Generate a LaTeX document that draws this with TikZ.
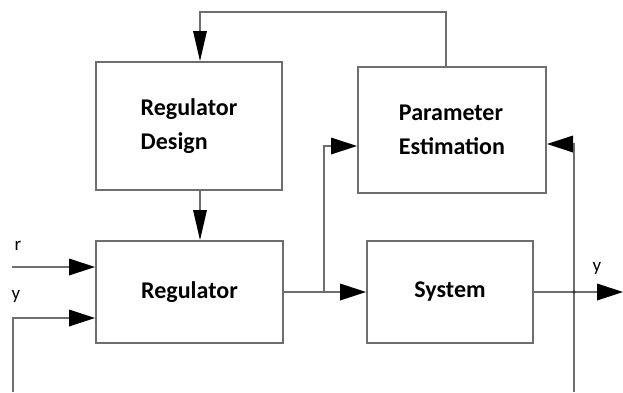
\documentclass[tikz,border=0pt]{standalone}
\usepackage{fontspec}
\setmainfont{Carlito}
\usetikzlibrary{arrows.meta}
\definecolor{wire}{RGB}{110,110,110}
\begin{document}
\begin{tikzpicture}[x=1pt,y=-1pt,
  blockbox/.style={draw=wire, line width=2pt, inner sep=0pt, align=left,
    font=\fontsize{24}{34}\selectfont\bfseries},
  link/.style={draw=wire, line width=2pt},
  flow/.style={link, -{Triangle[length=26pt,width=17pt,color=black,line width=0pt]}},
  vflow/.style={link, -{Triangle[length=30pt,width=14pt,color=black,line width=0pt]}},
  sig/.style={font=\fontsize{19}{22}\selectfont, inner sep=0pt}]
  \useasboundingbox (0,0) rectangle (623,392);

  % blocks
  \node[blockbox, minimum width=186pt, minimum height=128pt] (rd) at (189,126) {Regulator\\Design};
  \node[blockbox, minimum width=188pt, minimum height=126pt] (pe) at (452,130) {Parameter\\Estimation};
  \node[blockbox, minimum width=187pt, minimum height=102pt] (reg) at (189.5,292) {Regulator};
  \node[blockbox, minimum width=166pt, minimum height=102pt] (sys) at (450,292) {System};

  % wiring points
  \coordinate (rin) at (12,267);
  \coordinate (yin) at (13,392);
  \coordinate (branch) at (324,292);
  \coordinate (pick) at (574,292);
  \coordinate (ybot) at (574,392);
  \coordinate (yout) at (623,292);
  \coordinate (topR) at (446,12);
  \coordinate (topL) at (200,12);

  % inputs to the regulator
  \draw[flow] (rin) -- (rin -| reg.west);
  \draw[flow] (yin) |- (reg.west |- 0,318);

  % regulator to system, with branch to the estimator
  \draw[flow] (reg.east) -- (sys.west);
  \draw[flow] (branch) |- (pe.west |- 0,146);

  % system output and feedback to the estimator
  \draw[flow] (sys.east) -- (yout);
  \draw[flow] (ybot) |- (pe.east |- 0,144);
  \fill[black!80] (pick) circle (1.6pt);

  % estimator to design, design to regulator
  \draw[vflow] (pe.north -| topR) -- (topR) -- (topL) -- (topL |- rd.north);
  \draw[vflow] (rd.south -| 200,0) -- (reg.north -| 200,0);

  % signal labels
  \node[sig] (lr) at (18,246) {r};
  \node[sig] (ly) at (16,296) {y};
  \node[sig] (lyo) at (597,268) {y};
\end{tikzpicture}
\end{document}
